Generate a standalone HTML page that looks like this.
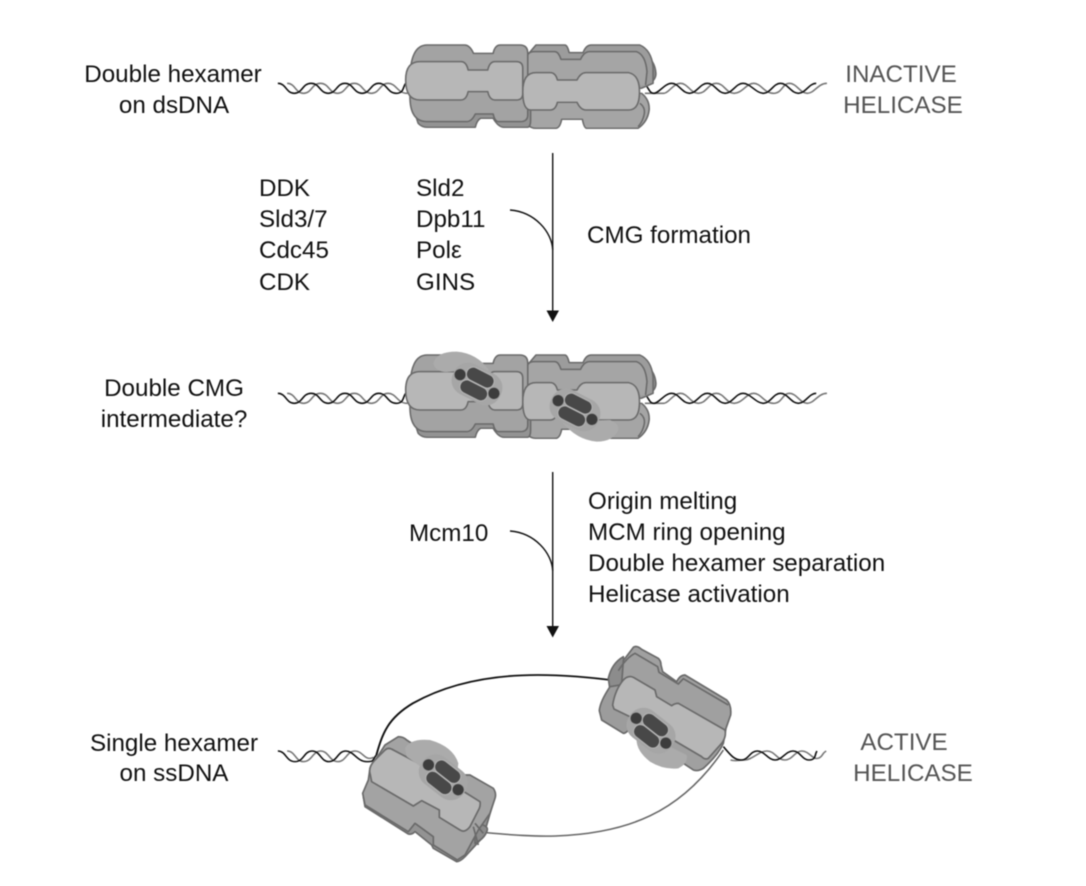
<!DOCTYPE html>
<html><head><meta charset="utf-8"><style>
html,body{margin:0;padding:0;background:#fff}
svg{display:block;filter:blur(.4px)}
text{font-family:"Liberation Sans",sans-serif;font-size:24.2px;fill:#111}
.g{fill:#555}.m{text-anchor:middle}
</style></head><body>
<svg width="1086" height="886" viewBox="0 0 1086 886" xmlns="http://www.w3.org/2000/svg">
<defs>
<g id="L" stroke="#6a6a6a" stroke-width="4.4" stroke-linejoin="round">
<path fill="#939393" d="M400,230 L415,280 Q425,292 440,292 L575,292 Q580,270 590,265 L625,265 Q640,292 655,292 L722,292 Q730,290 730,270 L730,200 Z"/>
<path fill="#a3a3a3" d="M392,150 Q392,45 440,45 L545,45 Q560,45 570,70 L625,70 Q630,45 645,45 L700,45 Q722,45 722,70 L722,255 Q722,275 700,275 L640,275 Q630,275 625,252 L575,252 Q565,275 550,275 L440,275 Q392,275 392,200Z"/>
<path fill="#b7b7b7" d="M380,150 Q380,95 420,95 L535,95 Q550,95 555,120 L610,120 Q615,95 630,95 L690,95 Q708,95 708,115 L708,190 Q708,210 690,210 L630,210 Q615,210 610,185 L555,185 Q550,210 535,210 L420,210 Q380,210 380,150Z"/>
</g>
<g id="R" stroke="#6a6a6a" stroke-width="4.4" stroke-linejoin="round">
<path fill="#8c8c8c" d="M1050,75 Q1078,90 1081,130 Q1082,155 1045,172 Z"/>
<path fill="#9c9c9c" d="M725,70 L745,45 L826,45 Q833,45 838,68 L877,68 Q885,45 900,45 L1036,45 Q1068,60 1073,110 L1073,160 L1040,175 L722,175Z"/>
<path fill="#a5a5a5" d="M722,190 L1041,190 Q1064,210 1062,240 Q1058,275 1031,295 L887,295 Q880,295 875,268 L817,268 Q812,295 800,295 L745,295 Q722,295 718,270Z"/>
<path fill="#a5a5a5" d="M719,200 L719,88 Q719,65 740,65 L798,65 Q808,65 815,88 L870,88 Q880,65 895,65 L1027,65 Q1052,75 1056,125 L1052,165"/>
<path fill="none" d="M1036,220 Q1056,235 1045,265 Q1040,280 1031,290"/>
</g>
<path id="Rf" fill="#b7b7b7" stroke="#6a6a6a" stroke-width="4.4" stroke-linejoin="round" d="M708,185 Q708,128 745,128 L785,128 Q800,128 805,150 L860,150 Q870,128 885,128 L1005,128 Q1035,135 1035,185 Q1035,240 1005,240 L885,240 Q870,240 860,217 L805,217 Q800,240 785,240 L730,240 Q708,240 708,185Z"/>
<g id="C">
<rect x="-78" y="-50" width="156" height="100" rx="46" fill="#a6a6a6"/>
<circle cx="-58" cy="-2" r="18" fill="#3c3c3c" stroke="#a0a0a0" stroke-width="2.5"/>
<circle cx="58" cy="2" r="18" fill="#3c3c3c" stroke="#a0a0a0" stroke-width="2.5"/>
<rect x="-44" y="-42" width="88" height="41" rx="20" fill="#484848" stroke="#b4b4b4" stroke-width="3"/>
<rect x="-44" y="1" width="88" height="41" rx="20" fill="#484848" stroke="#b4b4b4" stroke-width="3"/>
</g>
<g id="hl" fill="none" stroke-width="4.6">
<path stroke="#777" d="M48,160 C71,160 71,190 94,190 S117,160 141,160 S166,190 189,190 S213,160 236,160 S261,190 284,190 S308,160 331,160 S356,190 385,190"/>
<path stroke="#111" d="M22,160 C45,160 45,190 68,190 S91,160 115,160 S140,190 163,190 S187,160 210,160 S235,190 258,190 S282,160 305,160 S330,190 353,190 S372,170 380,160"/>
</g>
<g id="hr" fill="none" stroke-width="4.6">
<path stroke="#777" d="M1050,190 C1075,190 1090,190 1103,190 S1130,160 1150,160 S1178,190 1200,190 S1228,160 1250,160 S1278,190 1300,190 S1335,160 1355,160 S1385,190 1410,190 S1435,160 1455,160 S1485,190 1505,190 S1535,160 1560,160"/>
<path stroke="#111" d="M1045,160 C1060,165 1060,190 1075,190 S1105,160 1125,160 S1155,190 1175,190 S1205,160 1225,160 S1255,190 1275,190 S1305,160 1325,160 S1362,190 1382,190 S1410,160 1430,160 S1460,190 1480,190 S1510,160 1530,160"/>
</g>
</defs>

<!-- top -->
<g transform="translate(270,30) scale(.357,.3333)">
<use href="#hl"/><use href="#hr"/>
<use href="#R"/><use href="#L"/><use href="#Rf"/>
</g>

<!-- middle -->
<g transform="translate(270,340) scale(.357,.3333)">
<use href="#hl"/><use href="#hr"/>
<use href="#R"/><use href="#L"/><use href="#Rf"/>
</g>
<path transform="translate(400,340) scale(.3333)" fill="#ababab" d="M100,70 Q108,35 170,35 Q232,40 268,92 L200,90 L140,96 Q105,95 100,70Z"/>
<path transform="translate(520,340) scale(.3333)" fill="#ababab" d="M125,245 L270,240 Q297,250 295,270 Q280,305 230,305 Q170,300 125,245Z"/>
<use href="#C" transform="translate(477,384) rotate(27) scale(.3333)"/>
<use href="#C" transform="translate(575,410) rotate(27) scale(.3333)"/>

<!-- bottom strands and helices -->
<g transform="translate(270,640) scale(.357,.3333)" fill="none" stroke-width="4.6">
<path stroke="#777" d="M48,333 C71,333 71,365 94,365 S120,333 142,333 S167,365 190,365 S215,333 238,333 S265,365 290,352"/>
<path stroke="#111" d="M22,333 C45,333 45,365 70,365 S95,333 118,333 S142,365 165,365 S190,333 212,333 S245,365 270,365 S285,360 298,345"/>
<path stroke="#777" d="M1290,360 C1300,365 1310,360 1330,360 S1370,333 1392,333 S1420,360 1442,360 S1470,333 1490,333 S1520,360 1535,355 S1545,340 1558,333"/>
<path stroke="#111" d="M1270,320 C1290,345 1300,360 1320,360 S1345,333 1365,333 S1395,360 1415,360 S1445,333 1465,333 S1490,360 1510,360 S1525,345 1532,333"/>
<path stroke="#111" stroke-width="5.5" d="M298,345 C315,280 330,235 400,190 C500,130 620,105 750,105 C830,105 900,112 975,123"/>
<path stroke="#666" d="M605,578 C680,585 740,590 800,588 C1000,580 1150,520 1270,330"/>
</g>

<!-- upper right hexamer -->
<g transform="translate(590,640) scale(.3333)" stroke="#6a6a6a" stroke-width="5" stroke-linejoin="round">
<path fill="#8c8c8c" d="M100,50 Q65,70 55,115 L60,150 L110,140Z"/>
<path fill="#9c9c9c" d="M60,140 Q30,185 28,212 L35,240 L100,280 Q110,280 125,258 L200,320 L300,300 L120,130Z"/>
<path fill="#a0a0a0" d="M100,62 L130,22 Q140,15 155,28 L205,55 Q213,62 213,75 L218,95 L260,125 Q270,105 285,105 L410,180 Q425,195 422,225 L408,265 L400,310 Q385,345 340,385 Q325,395 310,390 L250,350 L90,200 Z"/>
<path fill="none" d="M85,92 Q110,52 135,40 L203,80 L207,97 L265,132 L280,116 L415,195"/>
<path fill="#b7b7b7" d="M68,195 Q75,150 100,120 Q115,105 130,112 L195,150 L200,170 L245,197 Q255,190 265,190 L405,270 Q410,290 395,310 L355,355 Q345,360 335,350 L250,300 L130,235 L72,207 Z"/>
<path fill="#ababab" stroke="none" d="M140,290 Q135,330 180,365 Q220,390 265,385 Q295,370 290,345 L260,330 L180,290Z"/>
</g>
<use href="#C" transform="translate(651,730.7) rotate(38) scale(.3333)"/>

<!-- lower left hexamer -->
<g transform="translate(350,730) scale(.3333)" stroke="#6a6a6a" stroke-width="5" stroke-linejoin="round">
<path fill="#939393" d="M40,200 L45,230 L175,312 Q185,315 195,305 L245,345 L250,355 L320,395 Q330,395 345,380 L400,320 L435,200 Z"/>
<path fill="#8c8c8c" d="M375,280 Q415,285 412,300 Q405,325 375,340Z"/>
<path fill="#a3a3a3" d="M60,115 L105,45 L145,20 Q160,20 170,30 L330,135 L360,135 L430,175 Q440,190 435,205 L420,250 L385,300 L345,375 L322,390 L250,345 L250,320 L195,280 L175,305 L45,225 L38,190 L55,150Z"/>
<path fill="none" d="M375,280 L400,310 M370,290 L385,345"/>
<path fill="#b7b7b7" d="M60,130 Q55,110 75,90 L105,60 Q115,50 130,60 L215,105 L310,165 L390,215 Q392,225 388,235 L360,290 Q345,310 330,300 L268,262 L268,240 L215,212 L190,228 L65,155 Z"/>
<path fill="#ababab" stroke="none" d="M165,55 Q180,25 240,30 Q310,50 325,100 L320,140 L240,130 L170,80Z"/>
</g>
<use href="#C" transform="translate(443.3,777.3) rotate(38) scale(.3333)"/>

<!-- arrows -->
<g fill="none" stroke="#111" stroke-width="1.4">
<path d="M552.7,153V312"/><path d="M510,210C535,212 552,232 552.7,250"/>
<path d="M552.7,472V627"/><path d="M510,531C535,533 552,553 552.7,571"/>
</g>
<path d="M546.5,310.5H559L552.7,322Z" fill="#111"/>
<path d="M546.5,626H559L552.7,637.5Z" fill="#111"/>

<!-- text -->
<text class="m" x="173" y="82">Double hexamer</text>
<text class="m" x="174" y="113">on dsDNA</text>
<text class="m g" x="901" y="82">INACTIVE</text>
<text class="m g" x="903" y="113">HELICASE</text>

<text x="259" y="196">DDK</text>
<text x="259" y="227">Sld3/7</text>
<text x="259" y="258">Cdc45</text>
<text x="259" y="290">CDK</text>
<text x="416" y="196">Sld2</text>
<text x="416" y="227">Dpb11</text>
<text x="416" y="258">Polε</text>
<text x="416" y="290">GINS</text>
<text x="587" y="243">CMG formation</text>

<text class="m" x="174" y="396">Double CMG</text>
<text class="m" x="174" y="427">intermediate?</text>

<text x="588" y="509">Origin melting</text>
<text x="588" y="540">MCM ring opening</text>
<text x="588" y="571">Double hexamer separation</text>
<text x="588" y="602">Helicase activation</text>
<text x="409" y="541">Mcm10</text>

<text class="m" x="174" y="751">Single hexamer</text>
<text class="m" x="174" y="781">on ssDNA</text>
<text class="m g" x="904" y="750">ACTIVE</text>
<text class="m g" x="913" y="781">HELICASE</text>
</svg>
</body></html>
